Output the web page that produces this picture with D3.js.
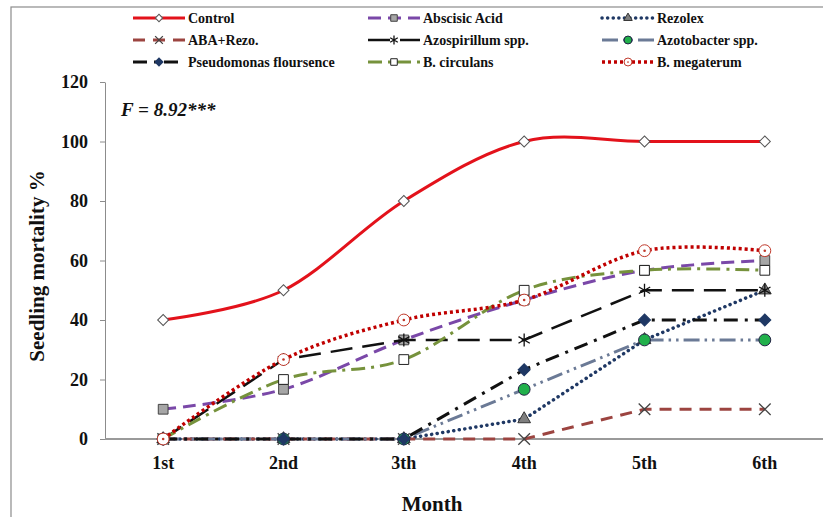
<!DOCTYPE html>
<html>
<head>
<meta charset="utf-8">
<script src="https://cdn.jsdelivr.net/npm/d3@7"></script>
<style>
  body { margin: 0; background: #fff; }
  svg text { font-family: "Liberation Serif", "Times New Roman", serif; font-weight: bold; fill: #111; }
</style>
</head>
<body>
<div class="chart"></div>
<script>
// data
const months = ["1st", "2nd", "3th", "4th", "5th", "6th"];
const control = [40, 50, 80, 100, 100, 100];
const abscisicAcid = [10, 16.7, 33.3, 46.7, 56.7, 60];
const rezolex = [0, 0, 0, 6.7, 33.3, 50];
const abaRezo = [0, 0, 0, 0, 10, 10];
const azospirillum = [0, 26.7, 33.3, 33.3, 50, 50];
const azotobacter = [0, 0, 0, 16.7, 33.3, 33.3];
const pseudomonas = [0, 0, 0, 23.3, 40, 40];
const bCirculans = [0, 20, 26.7, 50, 56.7, 56.7];
const bMegaterum = [0, 26.7, 40, 46.7, 63.3, 63.3];
const yTicks = [0, 20, 40, 60, 80, 100, 120];
const names = ["Control", "Abscisic Acid", "Rezolex", "ABA+Rezo.", "Azospirillum spp.",
  "Azotobacter spp.", "Pseudomonas floursence", "B. circulans", "B. megaterum"];
const values = [control, abscisicAcid, rezolex, abaRezo, azospirillum, azotobacter, pseudomonas, bCirculans, bMegaterum];

// look of every series
const styles = [
  { color: "#e3121b", width: 3, dash: null, smooth: true, sym: d3.symbolSquare, rot: 45, size: 60, fill: "#fff", edge: "#555" },
  { color: "#7a48a8", width: 3, dash: "13,7", smooth: true, sym: d3.symbolSquare, size: 95, fill: "#a6a6a6", edge: "#444" },
  { color: "#1f3864", width: 3.5, dash: "0.1,5.5", cap: "round", sym: d3.symbolTriangle, size: 70, fill: "#7f7f7f", edge: "#333" },
  { color: "#9c4440", width: 3, dash: "12,8", sym: d3.symbolX, size: 90, fill: "none", edge: "#444", stroke: true },
  { color: "#111", width: 2.5, dash: "22,10", sym: d3.symbolAsterisk, size: 120, fill: "none", edge: "#111", stroke: true },
  { color: "#6b7a96", width: 3, dash: "16,5,2.5,5,2.5,5", sym: d3.symbolCircle, size: 110, fill: "#21b04b", edge: "#224" },
  { color: "#111", width: 3, dash: "14,7,3,7", sym: d3.symbolSquare, rot: 45, size: 72, fill: "#1f3864", edge: "#1f3864" },
  { color: "#76923c", width: 3, dash: "14,6,3,6", smooth: true, sym: d3.symbolSquare, size: 95, fill: "#fff", edge: "#222" },
  { color: "#c00000", width: 3.5, dash: "3,3", smooth: true, sym: d3.symbolCircle, size: 110, fill: "#fff", edge: "#c0392b", dot: true }
];

const W = 823, H = 517;
const svg = d3.select(".chart").append("svg").attr("width", W).attr("height", H);

// outer chart frame
svg.append("rect").attr("x", 11).attr("y", 7).attr("width", 900).attr("height", 700)
  .attr("fill", "none").attr("stroke", "#8c8c8c").attr("stroke-width", 1.2);

const x = d3.scaleBand().domain(months).range([103, 825]).padding(0);
const y = d3.scaleLinear().domain([0, 120]).range([439, 82]);
const cx = m => x(m) + x.bandwidth() / 2;

// y axis
const yAxis = svg.append("g").attr("transform", "translate(105,0)")
  .call(d3.axisLeft(y).tickValues(yTicks).tickSize(5).tickPadding(12).tickSizeOuter(0));
yAxis.select(".domain").attr("stroke", "#8c8c8c");
yAxis.selectAll(".tick line").attr("stroke", "#8c8c8c");
yAxis.selectAll("text").style("font-size", "18px").style("font-family", "Liberation Serif").attr("fill", "#111");

// x axis
const xAxis = svg.append("g").attr("transform", "translate(0,439)")
  .call(d3.axisBottom(x).tickSize(0).tickPadding(17));
xAxis.select(".domain").attr("stroke", "#9a9a9a").attr("stroke-width", 2).attr("d", "M105,0H823");
xAxis.selectAll("text").style("font-size", "18px").style("font-family", "Liberation Serif").attr("fill", "#111");

// axis titles
svg.append("text").attr("transform", "translate(44,266) rotate(-90)").attr("text-anchor", "middle")
  .style("font-size", "21px").text("Seedling mortality %");
svg.append("text").attr("x", 432).attr("y", 511).attr("text-anchor", "middle")
  .style("font-size", "21px").text("Month");
svg.append("text").attr("x", 121).attr("y", 116).style("font-size", "19px").style("font-style", "italic")
  .text("F = 8.92***");

function marker(g, st, px, py, scale) {
  const p = g.append("path")
    .attr("d", d3.symbol().type(st.sym).size(st.size * scale)())
    .attr("transform", `translate(${px},${py}) rotate(${st.rot || 0})`);
  if (st.stroke) {
    p.attr("fill", "none").attr("stroke", st.edge).attr("stroke-width", 1.3);
  } else {
    p.attr("fill", st.fill).attr("stroke", st.edge).attr("stroke-width", 1);
  }
  if (st.dot) {
    g.append("circle").attr("cx", px).attr("cy", py).attr("r", 1.3 * Math.sqrt(scale)).attr("fill", st.edge);
  }
}

// series lines and markers
const plot = svg.append("g");
values.forEach((vals, i) => {
  const st = styles[i];
  const line = d3.line()
    .x((d, j) => cx(months[j]))
    .y(d => y(d))
    .curve(st.smooth ? d3.curveCardinal.tension(0) : d3.curveLinear);
  const g = plot.append("g");
  g.append("path").datum(vals).attr("d", line)
    .attr("fill", "none").attr("stroke", st.color).attr("stroke-width", st.width)
    .attr("stroke-dasharray", st.dash).attr("stroke-linecap", st.cap || "butt");
  vals.forEach((v, j) => marker(g, st, cx(months[j]), y(v), 1));
});

// legend, three columns
const colX = [133, 368, 602];
const rowY = [18, 40, 62];
const legend = svg.append("g");
names.forEach((name, i) => {
  const st = styles[i];
  const lx = colX[i % 3], ly = rowY[Math.floor(i / 3)];
  const g = legend.append("g");
  g.append("line").attr("x1", lx).attr("x2", lx + 52).attr("y1", ly).attr("y2", ly)
    .attr("stroke", st.color).attr("stroke-width", st.width)
    .attr("stroke-dasharray", st.dash).attr("stroke-linecap", st.cap || "butt");
  marker(g, st, lx + 26, ly, 0.45);
  g.append("text").attr("x", lx + 55).attr("y", ly + 5).style("font-size", "14px").text(name);
});
</script>
</body>
</html>
